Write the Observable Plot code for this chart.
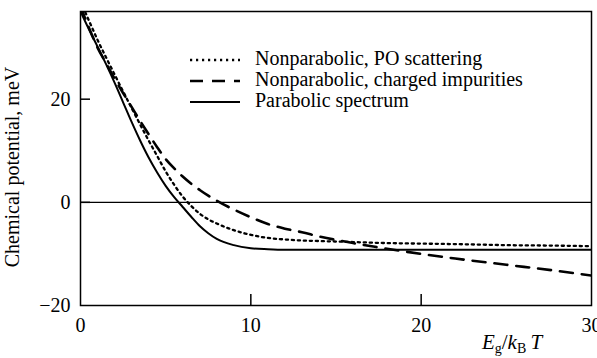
<!DOCTYPE html>
<html><head><meta charset="utf-8">
<script src="https://cdn.jsdelivr.net/npm/d3@7"></script>
<script src="https://cdn.jsdelivr.net/npm/@observablehq/plot@0.6"></script>
<style>
html,body{margin:0;padding:0;background:#fff}
svg{display:block}
svg text, svg tspan{font-family:"Liberation Serif","Times New Roman",serif !important}
</style>
</head><body><div id="chart"></div>
<script>
// E_g / k_B T
const gap = [0, 0.5, 1, 1.5, 2, 2.5, 3, 3.5, 4, 4.5, 5, 5.5, 6, 6.5, 7, 7.5, 8, 9, 10, 11, 12, 13, 14, 16, 18, 20, 22, 25, 28, 30];
// Chemical potential, meV
const parabolic = [37, 33.5, 30.2, 26.8, 23.2, 19.4, 15.6, 12.0, 8.7, 5.8, 3.2, 1.0, -0.9, -2.8, -4.6, -6.0, -7.1, -8.3, -8.9, -9.1, -9.2, -9.2, -9.2, -9.2, -9.2, -9.2, -9.2, -9.2, -9.2, -9.2];
const poScattering = [39, 35.2, 31.5, 28.1, 24.8, 21.5, 18.3, 15.1, 12.0, 9.0, 6.0, 3.4, 1.1, -0.7, -2.2, -3.3, -4.1, -5.4, -6.3, -6.9, -7.2, -7.4, -7.5, -7.7, -7.9, -8.0, -8.1, -8.3, -8.4, -8.5];
const chargedImpurities = [38, 33.8, 30.0, 27.0, 24.0, 21.2, 18.5, 15.8, 13.2, 10.7, 8.4, 6.6, 5.0, 3.6, 2.4, 1.3, 0.3, -1.4, -2.9, -4.2, -5.1, -5.8, -6.6, -7.9, -9.0, -10.0, -10.9, -12.1, -13.3, -14.2];

const seriesNames = ["Nonparabolic, PO scattering", "Nonparabolic, charged impurities", "Parabolic spectrum"];
const xTicks = [0, 10, 20, 30];
const yTicks = [-20, 0, 20];
const xInnerTicks = [10, 20];
const yInnerTicks = [0, 20];
const yLabel = "Chemical potential, meV";

const seriesValues = [poScattering, chargedImpurities, parabolic];
const styles = [
  {dash: "2.2,3.8", width: 2.3},
  {dash: "13,9", width: 2.6},
  {dash: null, width: 2}
];
const rows = [];
seriesNames.forEach((name, i) => gap.forEach((g, j) => rows.push({series: name, x: g, y: seriesValues[i][j]})));

const W = 597, H = 358, mL = 80, mT = 11, mR = 6, mB = 53;
const innerW = W - mL - mR, innerH = H - mT - mB;
const font = "Liberation Serif, Times New Roman, serif";

const lineMarks = seriesNames.map((name, i) => Plot.line(rows.filter(d => d.series === name), {
  x: "x", y: "y", stroke: "#000", strokeWidth: styles[i].width,
  strokeDasharray: styles[i].dash || undefined, curve: "monotone-x", clip: true
}));

const chart = Plot.plot({
  width: W, height: H,
  marginLeft: mL, marginTop: mT, marginRight: mR, marginBottom: mB,
  style: {fontFamily: font, fontSize: "20px", color: "#000", background: "#fff", overflow: "visible"},
  x: {domain: [0, 30]},
  y: {domain: [-20, 37]},
  marks: [
    Plot.ruleY([0], {stroke: "#000", strokeWidth: 1.2}),
    ...lineMarks,
    Plot.tickY(yInnerTicks, {y: d => d, insetRight: innerW - 10, stroke: "#000", strokeWidth: 1.5}),
    Plot.tickX(xInnerTicks, {x: d => d, insetTop: innerH - 11, stroke: "#000", strokeWidth: 1.5}),
    Plot.axisY(yTicks, {tickSize: 0, tickPadding: 10, label: null, fontSize: 20}),
    Plot.axisX(xTicks, {tickSize: 0, tickPadding: 12, label: null, fontSize: 20}),
    Plot.frame({stroke: "#000", strokeWidth: 1.5})
  ]
});
document.getElementById("chart").appendChild(chart);

const svg = d3.select(chart);
// y label
svg.append("text")
  .attr("transform", "translate(14,167) rotate(-90)")
  .attr("text-anchor", "middle").attr("dominant-baseline", "middle")
  .attr("font-size", 20).attr("fill", "#000")
  .text(yLabel);
// x label E_g / k_B T
const xl = svg.append("text")
  .attr("x", 512).attr("y", 349).attr("text-anchor", "middle")
  .attr("font-size", 21).attr("fill", "#000");
xl.append("tspan").attr("font-style", "italic").text("E");
xl.append("tspan").attr("font-size", 14).attr("dy", 4).text("g");
xl.append("tspan").attr("dy", -4).text("/");
xl.append("tspan").attr("font-style", "italic").text("k");
xl.append("tspan").attr("font-size", 14).attr("dy", 4).text("B");
xl.append("tspan").attr("dy", -4).attr("font-style", "italic").text("\u2009T");
// legend
const lg = svg.append("g");
seriesNames.forEach((name, i) => {
  const yy = 60 + i * 21;
  lg.append("line").attr("x1", 190).attr("x2", 240).attr("y1", yy).attr("y2", yy)
    .attr("stroke", "#000").attr("stroke-width", styles[i].width)
    .attr("stroke-dasharray", styles[i].dash);
  lg.append("text").attr("x", 255).attr("y", yy).attr("dominant-baseline", "middle")
    .attr("text-anchor", "start")
    .attr("font-size", 20).attr("fill", "#000").text(name);
});
</script>
</body></html>
